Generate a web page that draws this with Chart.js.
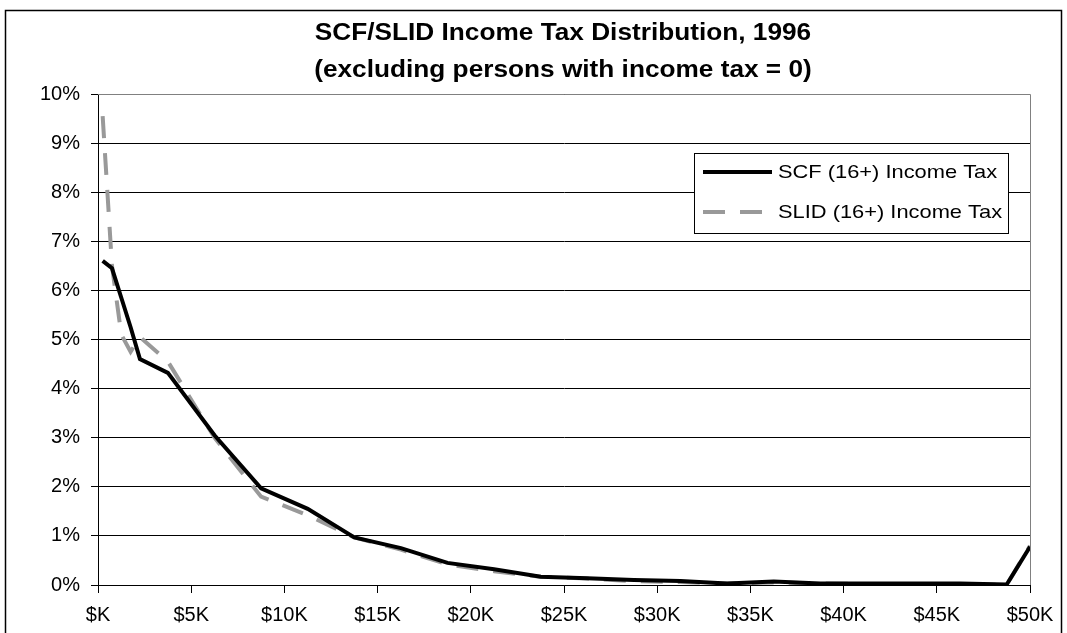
<!DOCTYPE html>
<html>
<head>
<meta charset="utf-8">
<script src="https://cdn.jsdelivr.net/npm/chart.js@4.4.1/dist/chart.umd.min.js"></script>
<style>
  html, body { margin: 0; padding: 0; background: #fff; }
  canvas { display: block; }
</style>
</head>
<body>
<canvas id="taxChart" width="1067" height="633"></canvas>
<script>
// income bracket midpoints, $K
const incomeK = [0.25, 0.75, 1.25, 1.75, 2.25, 3.75, 6.25, 8.75, 11.25, 13.75, 16.25, 18.75,
  21.25, 23.75, 26.25, 28.75, 31.25, 33.75, 36.25, 38.75, 41.25, 43.75, 46.25, 48.75, 50];

// share of persons, %
const scfPct = [6.6, 6.45, 5.85, 5.25, 4.6, 4.32, 3.05, 1.97, 1.55, 0.97, 0.75, 0.45,
  0.32, 0.17, 0.14, 0.1, 0.08, 0.03, 0.07, 0.03, 0.03, 0.03, 0.03, 0.01, 0.78];
const slidPct = [9.55, 6.5, 5.1, 4.75, 5.05, 4.55, 3.0, 1.8, 1.42, 0.97, 0.72, 0.42,
  0.28, 0.17, 0.13, 0.08, 0.06, 0.03, 0.05, 0.03, 0.02, 0.02, 0.02, 0.0, 0.8];

const seriesNames = ['SCF (16+) Income Tax', 'SLID (16+) Income Tax'];
const titleLines = ['SCF/SLID Income Tax Distribution, 1996', '(excluding persons with income tax = 0)'];
const xTickLabels = ['$K', '$5K', '$10K', '$15K', '$20K', '$25K', '$30K', '$35K', '$40K', '$45K', '$50K'];

const FONT = 'Arial, "Liberation Sans", sans-serif';

const toPoints = vals => vals.map((v, i) => ({ x: incomeK[i], y: v }));

// the source picture's text is a bit wider than its height suggests
function wideText(ctx, text, x, y, stretch) {
  ctx.save();
  ctx.translate(x, y);
  ctx.scale(stretch, 1);
  ctx.fillText(text, 0, 0);
  ctx.restore();
}

// white page, outer frame and the two-line title
const framePlugin = {
  id: 'frame',
  beforeDraw(chart) {
    const { ctx } = chart;
    ctx.save();
    ctx.fillStyle = '#fff';
    ctx.fillRect(0, 0, chart.width, chart.height);
    ctx.strokeStyle = '#000';
    ctx.lineWidth = 1.5;
    ctx.strokeRect(5.5, 10.5, 1056, 700);
    ctx.fillStyle = '#000';
    ctx.font = 'bold 23px ' + FONT;
    ctx.textAlign = 'center';
    ctx.textBaseline = 'middle';
    wideText(ctx, titleLines[0], 563, 34, 1.14);
    wideText(ctx, titleLines[1], 563, 71, 1.14);
    ctx.restore();
  },
  beforeDatasetsDraw(chart) {
    const { ctx, chartArea: a } = chart;
    ctx.save();
    ctx.strokeStyle = '#808080';
    ctx.lineWidth = 1;
    ctx.beginPath();
    ctx.moveTo(a.left, a.top + 0.5);
    ctx.lineTo(a.right + 0.5, a.top + 0.5);
    ctx.lineTo(a.right + 0.5, a.bottom);
    ctx.stroke();
    ctx.restore();
  },
};

// legend box sitting inside the plot area
const boxLegend = {
  id: 'boxLegend',
  afterDraw(chart) {
    const { ctx } = chart;
    const x = 694, y = 153, w = 314, h = 80;
    ctx.save();
    ctx.fillStyle = '#fff';
    ctx.fillRect(x, y, w, h);
    ctx.strokeStyle = '#000';
    ctx.lineWidth = 1;
    ctx.strokeRect(x + 0.5, y + 0.5, w, h);
    ctx.font = '19px ' + FONT;
    ctx.textBaseline = 'middle';
    chart.data.datasets.forEach((ds, i) => {
      const ly = y + 19 + i * 40;
      ctx.strokeStyle = ds.borderColor;
      ctx.lineWidth = ds.borderWidth;
      ctx.setLineDash(ds.borderDash || []);
      ctx.beginPath();
      ctx.moveTo(x + 9, ly);
      ctx.lineTo(x + 78, ly);
      ctx.stroke();
      ctx.setLineDash([]);
      ctx.fillStyle = '#000';
      wideText(ctx, ds.label, x + 84, ly + 1, 1.15);
    });
    ctx.restore();
  },
};

new Chart(document.getElementById('taxChart'), {
  type: 'line',
  data: {
    datasets: [
      {
        label: seriesNames[0],
        data: toPoints(scfPct),
        borderColor: '#000',
        borderWidth: 4,
        pointRadius: 0,
        tension: 0,
      },
      {
        label: seriesNames[1],
        data: toPoints(slidPct),
        borderColor: '#999999',
        borderWidth: 4,
        borderDash: [22, 15],
        pointRadius: 0,
        tension: 0,
      },
    ],
  },
  options: {
    responsive: false,
    animation: false,
    layout: { padding: { top: 94, left: 5, right: 37, bottom: 0 } },
    plugins: {
      legend: { display: false },
      title: { display: false },
      tooltip: { enabled: false },
    },
    scales: {
      x: {
        type: 'linear',
        min: 0,
        max: 50,
        afterFit: s => { s.height = 48; },
        afterBuildTicks: s => { s.ticks = xTickLabels.map((_, i) => ({ value: i * 5 })); },
        border: { display: true, color: '#000', width: 1 },
        grid: { drawOnChartArea: false, drawTicks: true, tickLength: 8, color: '#000' },
        ticks: {
          color: '#000',
          font: { family: FONT, size: 20 },
          padding: 10,
          maxRotation: 0,
          autoSkip: false,
          callback: (v, i) => xTickLabels[i],
        },
      },
      y: {
        min: 0,
        max: 10,
        afterFit: s => { s.width = 93; },
        border: { display: true, color: '#000', width: 1 },
        grid: { color: '#000', lineWidth: 1, tickLength: 7 },
        ticks: {
          stepSize: 1,
          color: '#000',
          font: { family: FONT, size: 20 },
          padding: 11,
          callback: v => v + '%',
        },
      },
    },
  },
  plugins: [framePlugin, boxLegend],
});
</script>
</body>
</html>
